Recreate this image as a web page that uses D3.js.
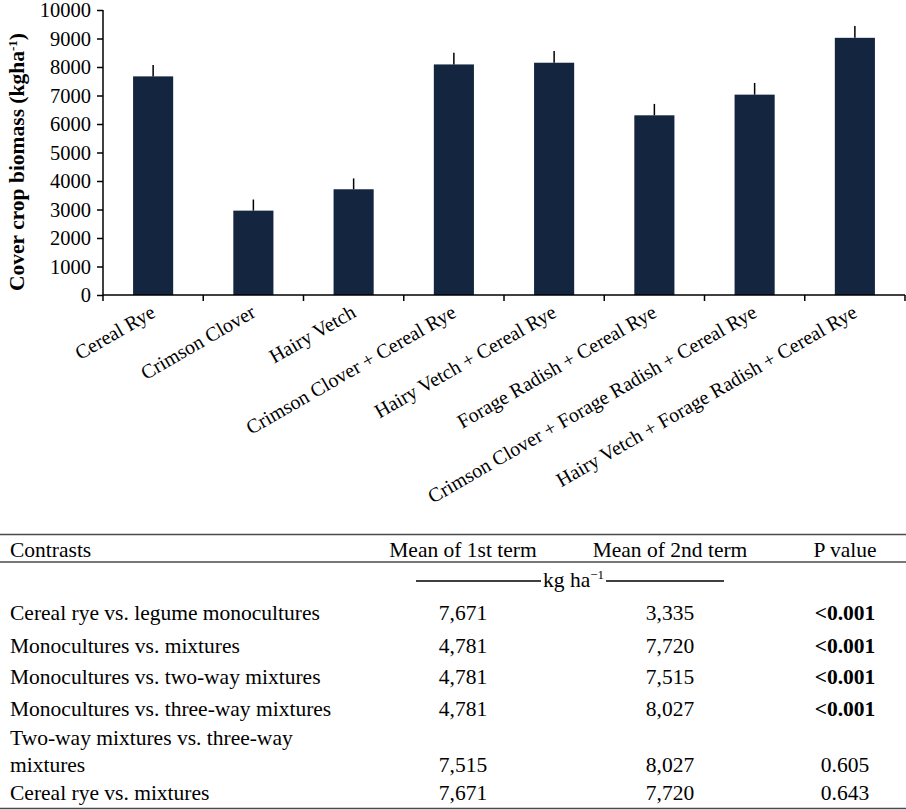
<!DOCTYPE html>
<html>
<head>
<meta charset="utf-8">
<script src="https://cdn.jsdelivr.net/npm/d3@7/dist/d3.min.js"></script>
<style>
  html, body { margin: 0; padding: 0; background: #fff; }
  svg { display: block; font-family: "Liberation Serif", "Times New Roman", serif; }
</style>
</head>
<body>
<svg id="chart" width="906" height="810"></svg>
<script>
// ---- Data ----
const categories = [
  "Cereal Rye",
  "Crimson Clover",
  "Hairy Vetch",
  "Crimson Clover + Cereal Rye",
  "Hairy Vetch + Cereal Rye",
  "Forage Radish + Cereal Rye",
  "Crimson Clover + Forage Radish + Cereal Rye",
  "Hairy Vetch + Forage Radish + Cereal Rye"
];
const biomass = [7671, 2960, 3710, 8090, 8150, 6305, 7030, 9024];
const stdErr  = [400, 390, 380, 410, 410, 400, 410, 416];
const yTicks  = [0, 1000, 2000, 3000, 4000, 5000, 6000, 7000, 8000, 9000, 10000];

const contrasts = [
  ["Cereal rye vs. legume monocultures"],
  ["Monocultures vs. mixtures"],
  ["Monocultures vs. two-way mixtures"],
  ["Monocultures vs. three-way mixtures"],
  ["Two-way mixtures vs. three-way", "mixtures"],
  ["Cereal rye vs. mixtures"]
];
const mean1st = ["7,671", "4,781", "4,781", "4,781", "7,515", "7,671"];
const mean2nd = ["3,335", "7,720", "7,515", "8,027", "8,027", "7,720"];
const pValues = ["<0.001", "<0.001", "<0.001", "<0.001", "0.605", "0.643"];
const pBold   = [true, true, true, true, false, false];
const headers = ["Contrasts", "Mean of 1st term", "Mean of 2nd term", "P value"];

// ---- Chart ----
const svg = d3.select("#chart");
const barColor = "#13253f";

const x = d3.scaleBand().domain(categories).range([103, 905])
  .paddingInner(0.6).paddingOuter(0.3);
const y = d3.scaleLinear().domain([0, 10000]).range([295, 10]);

// bars
svg.append("g").selectAll("rect").data(categories).join("rect")
  .attr("x", d => x(d))
  .attr("y", (d, i) => y(biomass[i]))
  .attr("width", x.bandwidth())
  .attr("height", (d, i) => y(0) - y(biomass[i]))
  .attr("fill", barColor);

// error bars (upper only)
svg.append("g").selectAll("line").data(categories).join("line")
  .attr("x1", d => x(d) + x.bandwidth() / 2)
  .attr("x2", d => x(d) + x.bandwidth() / 2)
  .attr("y1", (d, i) => y(biomass[i]))
  .attr("y2", (d, i) => y(biomass[i] + stdErr[i]))
  .attr("stroke", "#000").attr("stroke-width", 1.5);

// y axis
const yAxis = svg.append("g").attr("transform", "translate(103,0)")
  .call(d3.axisLeft(y).tickValues(yTicks).tickSize(6).tickPadding(6).tickFormat(d3.format("d")));
yAxis.selectAll("path, line").attr("stroke", "#000").attr("stroke-width", 1.5);
yAxis.select(".domain").attr("d", "M0,10V295");
yAxis.selectAll("text").attr("font-size", 20.5).attr("font-family", "Liberation Serif").attr("fill", "#000");

// x axis line and boundary ticks
const step = x.step();
const edges = categories.map(d => x(d) - step * x.paddingOuter());
edges.push(x(categories[categories.length - 1]) + x.bandwidth() + step * x.paddingOuter());
svg.append("line").attr("x1", 103).attr("x2", edges[edges.length - 1])
  .attr("y1", y(0)).attr("y2", y(0)).attr("stroke", "#000").attr("stroke-width", 1.5);
svg.append("g").selectAll("line").data(edges).join("line")
  .attr("x1", d => d).attr("x2", d => d)
  .attr("y1", y(0)).attr("y2", y(0) + 6)
  .attr("stroke", "#000").attr("stroke-width", 1.5);

// x labels
svg.append("g").selectAll("text").data(categories).join("text")
  .attr("transform", d => `translate(${x(d) + x.bandwidth() / 2 + 3.5},316) rotate(-30)`)
  .attr("text-anchor", "end")
  .attr("font-size", 20)
  .attr("fill", "#000")
  .text(d => d);

// y title
const yt = svg.append("text")
  .attr("transform", "translate(24,162) rotate(-90)")
  .attr("text-anchor", "middle")
  .attr("font-size", 21.5)
  .attr("font-weight", "bold")
  .attr("fill", "#000");
yt.append("tspan").text("Cover crop biomass (kgha");
yt.append("tspan").attr("dy", -7).attr("font-size", 13).text("-1");
yt.append("tspan").attr("dy", 7).text(")");

// ---- Table ----
const tbl = svg.append("g").attr("font-size", 21.5).attr("fill", "#000");
const colX = [10, 463, 670, 845];
const ruleColor = "#4a4a4a";
[534.5, 562, 808.5].forEach(yy => {
  tbl.append("line").attr("x1", 0).attr("x2", 906).attr("y1", yy).attr("y2", yy)
    .attr("stroke", ruleColor).attr("stroke-width", 1.6);
});

headers.forEach((h, i) => {
  tbl.append("text").attr("x", colX[i]).attr("y", 557)
    .attr("text-anchor", i === 0 ? "start" : "middle").text(h);
});

// unit line
tbl.append("line").attr("x1", 416).attr("x2", 541).attr("y1", 581).attr("y2", 581)
  .attr("stroke", "#000").attr("stroke-width", 1.3);
tbl.append("line").attr("x1", 606).attr("x2", 724).attr("y1", 581).attr("y2", 581)
  .attr("stroke", "#000").attr("stroke-width", 1.3);
const unit = tbl.append("text").attr("x", 543).attr("y", 587);
unit.append("tspan").text("kg ha");
unit.append("tspan").attr("dy", -8).attr("font-size", 13).text("\u22121");

const rowBase = [620, 653, 684, 716, 745, 800];
const lineGap = 27;
contrasts.forEach((lines, i) => {
  const t = tbl.append("text").attr("x", colX[0]).attr("y", rowBase[i]);
  lines.forEach((ln, j) => {
    t.append("tspan").attr("x", colX[0]).attr("y", rowBase[i] + j * lineGap).text(ln);
  });
  const vy = rowBase[i] + (lines.length - 1) * lineGap;
  tbl.append("text").attr("x", colX[1]).attr("y", vy).attr("text-anchor", "middle").text(mean1st[i]);
  tbl.append("text").attr("x", colX[2]).attr("y", vy).attr("text-anchor", "middle").text(mean2nd[i]);
  tbl.append("text").attr("x", colX[3]).attr("y", vy).attr("text-anchor", "middle")
    .attr("font-weight", pBold[i] ? "bold" : "normal").text(pValues[i]);
});
</script>
</body>
</html>
